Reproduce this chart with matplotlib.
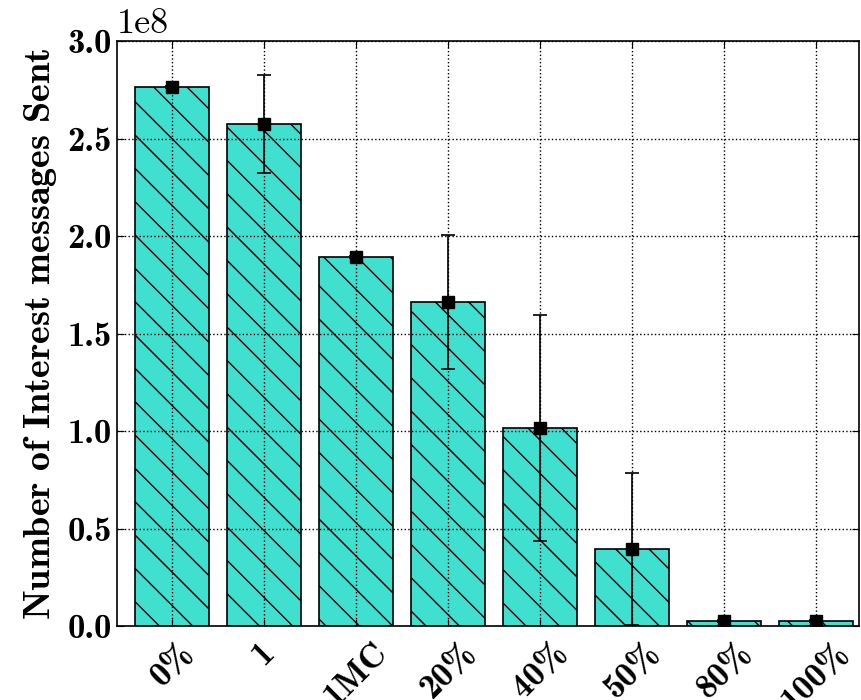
import numpy as np
import matplotlib
matplotlib.use("Agg")
import matplotlib.pyplot as plt
from matplotlib.ticker import FuncFormatter

plt.rcParams["mathtext.fontset"] = "cm"
plt.rcParams["hatch.linewidth"] = 1.0

# data
categories = ["0%", "1", "1MC", "20%", "40%", "50%", "80%", "100%"]
sent = [2.764e8, 2.574e8, 1.892e8, 1.662e8, 1.015e8, 0.395e8, 0.026e8, 0.026e8]
sent_err = [0.005e8, 0.252e8, 0.005e8, 0.345e8, 0.58e8, 0.39e8, 0.003e8, 0.003e8]

x = np.arange(len(categories))

fig = plt.figure(figsize=(8.62, 7.0), dpi=100)
ax = fig.add_axes([0.1357, 0.1057, 0.861, 0.8353])

ax.set_axisbelow(False)
ax.bar(x, sent, width=0.8, align="center", color="#40E0D0", edgecolor="black",
       linewidth=1.2, hatch="\\")
ax.errorbar(x, sent, yerr=sent_err, fmt="s", color="black", markersize=9,
            ecolor="black", elinewidth=1.2, capsize=5, capthick=1.2)

ax.set_xlim(-0.6, 7.47)
ax.set_ylim(0, 3.0e8)
ax.set_yticks(np.arange(0, 3.01e8, 0.5e8))
ax.yaxis.set_major_formatter(FuncFormatter(lambda v, p: "%.1f" % (v / 1e8)))
ax.set_xticks(x)
ax.set_xticklabels(categories, rotation=45, ha="center")
for lab in ax.get_xticklabels() + ax.get_yticklabels():
    lab.set_fontfamily("cmb10")
    lab.set_fontsize(25)
ax.tick_params(direction="in", length=5, top=True, right=True)
ax.tick_params(axis="x", pad=8)

ax.grid(True, color="black", linestyle=":", linewidth=1.0)
for s in ax.spines.values():
    s.set_linewidth(1.2)

ax.text(0.0, 1.003, "1e8", transform=ax.transAxes, ha="left",
        va="bottom", fontsize=26, fontfamily="cmr10")
ax.set_ylabel(r"$\mathbf{Number\ of\ Interest\ messages\ Sent}$", fontsize=27.5,
              labelpad=6)

fig.savefig("out.png", dpi=100)
